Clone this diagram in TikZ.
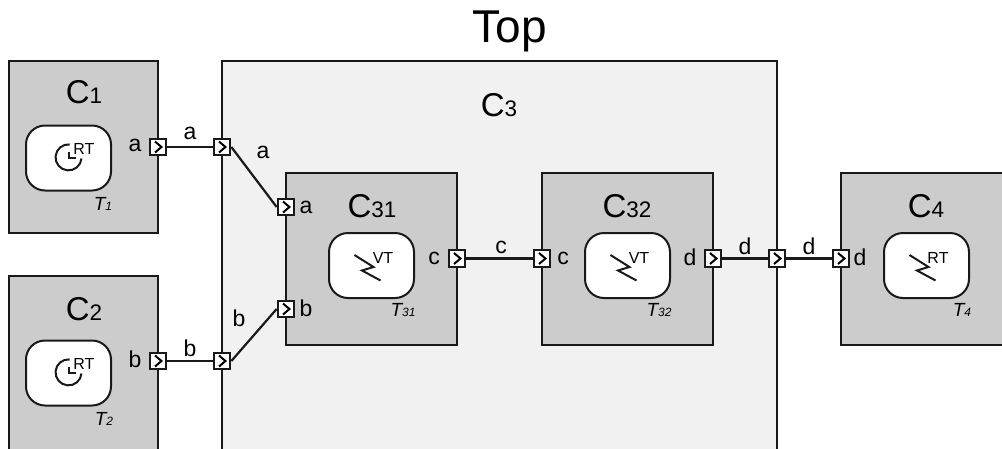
\documentclass[tikz,border=0pt]{standalone}
\usepackage{fontspec}
\setmainfont{Liberation Sans}
\tikzset{
  x=1pt,y=-1pt,
  comp/.style={draw=black!90,line width=2pt,fill=black!20,rectangle,inner sep=0pt,minimum width=#1},
  task/.style={draw=black!90,line width=2pt,fill=white,rectangle,rounded corners=19pt,inner sep=0pt,minimum width=85pt,minimum height=65pt},
  port/.style={draw=black!90,line width=2.2pt,fill=white,rectangle,inner sep=0pt,minimum size=16.5pt,
    path picture={\draw[line width=2pt,black] ([shift={(-3pt,5.5pt)}]path picture bounding box.center) -- ([shift={(3.5pt,0pt)}]path picture bounding box.center) -- ([shift={(-3pt,-5.5pt)}]path picture bounding box.center);}},
  wire/.style={line width=2.2pt,draw=black!90},
  lbl/.style={inner sep=0pt,font=\fontsize{23}{23}\selectfont,text=black},
  ttl/.style={inner sep=0pt,font=\fontsize{33}{33}\selectfont,text=black},
  tname/.style={inner sep=0pt,font=\fontsize{19}{19}\selectfont\itshape,text=black},
  kind/.style={inner sep=0pt,font=\fontsize{16}{16}\selectfont,text=black},
  icon/.style={line width=2pt,draw=black!90},
}
\newcommand{\cname}[1]{C{\fontsize{22.5}{22.5}\selectfont #1}}
\newcommand{\tsub}[1]{T{\fontsize{12}{12}\selectfont #1}}
\newcommand{\clockicon}[2]{%
  \draw[icon] (#1+13,#2+1) arc[start angle=5,end angle=275,radius=13];
  \draw[icon] (#1,#2-6) -- (#1,#2) -- (#1+7,#2);
}
\newcommand{\bolticon}[2]{%
  \draw[icon] (#1-17.5,#2-10.5) -- (#1+1.5,#2+1.5) -- (#1-10,#2+5) -- (#1+8.5,#2+15);
}
\begin{document}
\begin{tikzpicture}
\useasboundingbox (0,0) rectangle (1002,448);
\clip (0,0) rectangle (1002,448);
\fill[white] (0,0) rectangle (1002,448);
\node[inner sep=0pt,font=\fontsize{46}{46}\selectfont,text=black] (top) at (510,31) {Top};
% components
\node[comp=149pt,minimum height=172pt] (c1) at (83.5,147) {};
\node[comp=149pt,minimum height=190pt] (c2) at (83.5,371) {};
\node[comp=555pt,minimum height=405pt,fill=black!5.5] (c3) at (499.5,263.5) {};
\node[comp=171pt,minimum height=172pt] (c31) at (371.5,259) {};
\node[comp=171pt,minimum height=172pt] (c32) at (627.5,259) {};
\node[comp=180pt,minimum height=172pt] (c4) at (931,259) {};
% titles
\node[ttl] (t1) at (84,92) {\cname{1}};
\node[ttl] (t2) at (84,309) {\cname{2}};
\node[ttl] (t3) at (499,105) {\cname{3}};
\node[ttl] (t31) at (372,206) {\cname{31}};
\node[ttl] (t32) at (627,206) {\cname{32}};
\node[ttl] (t4) at (926,206) {\cname{4}};
% tasks
\node[task] (k1) at (68.5,158) {};
\node[task] (k2) at (68.5,373) {};
\node[task] (k31) at (371.5,265.5) {};
\node[task] (k32) at (627.5,265.5) {};
\node[task] (k4) at (926.5,265.5) {};
\clockicon{68.5}{157.5}
\clockicon{68.5}{372.5}
\bolticon{372}{265.5}
\bolticon{628}{265.5}
\bolticon{927}{265.5}
\node[kind] (r1) at (84,149) {RT};
\node[kind] (r2) at (84,364) {RT};
\node[kind] (r31) at (383,258) {VT};
\node[kind] (r32) at (639,258) {VT};
\node[kind] (r4) at (938,258) {RT};
\node[tname] (n1) at (103,204) {\tsub{1}};
\node[tname] (n2) at (104,419) {\tsub{2}};
\node[tname] (n31) at (403,310) {\tsub{31}};
\node[tname] (n32) at (659,310) {\tsub{32}};
\node[tname] (n4) at (962,310) {\tsub{4}};
% ports
\node[port] (pa1) at (158,147) {};
\node[port] (pa2) at (222,147) {};
\node[port] (pa3) at (286,207) {};
\node[port] (pb1) at (158,361) {};
\node[port] (pb2) at (222,361) {};
\node[port] (pb3) at (286,309) {};
\node[port] (pc1) at (457,258.5) {};
\node[port] (pc2) at (542,258.5) {};
\node[port] (pd1) at (713,258.5) {};
\node[port] (pd2) at (777,258.5) {};
\node[port] (pd3) at (841,258.5) {};
% wires
\draw[wire] (pa1) -- (pa2);
\draw[wire] (pa2.east) -- (pa3.west);
\draw[wire] (pb1) -- (pb2);
\draw[wire] (pb2.east) -- (pb3.west);
\draw[wire] (pc1) -- (pc2);
\draw[wire] (pd1) -- (pd2);
\draw[wire] (pd2) -- (pd3);
% labels
\node[lbl] (la1) at (135,145) {a};
\node[lbl] (la2) at (190,133) {a};
\node[lbl] (la3) at (263,152) {a};
\node[lbl] (la4) at (306,207) {a};
\node[lbl] (lb1) at (135,359) {b};
\node[lbl] (lb2) at (190,348) {b};
\node[lbl] (lb3) at (239,318) {b};
\node[lbl] (lb4) at (306,308) {b};
\node[lbl] (lc1) at (434,258) {c};
\node[lbl] (lc2) at (501,247) {c};
\node[lbl] (lc3) at (563,258) {c};
\node[lbl] (ld1) at (690,257) {d};
\node[lbl] (ld2) at (745,246) {d};
\node[lbl] (ld3) at (809,246) {d};
\node[lbl] (ld4) at (860,257) {d};
\end{tikzpicture}
\end{document}
